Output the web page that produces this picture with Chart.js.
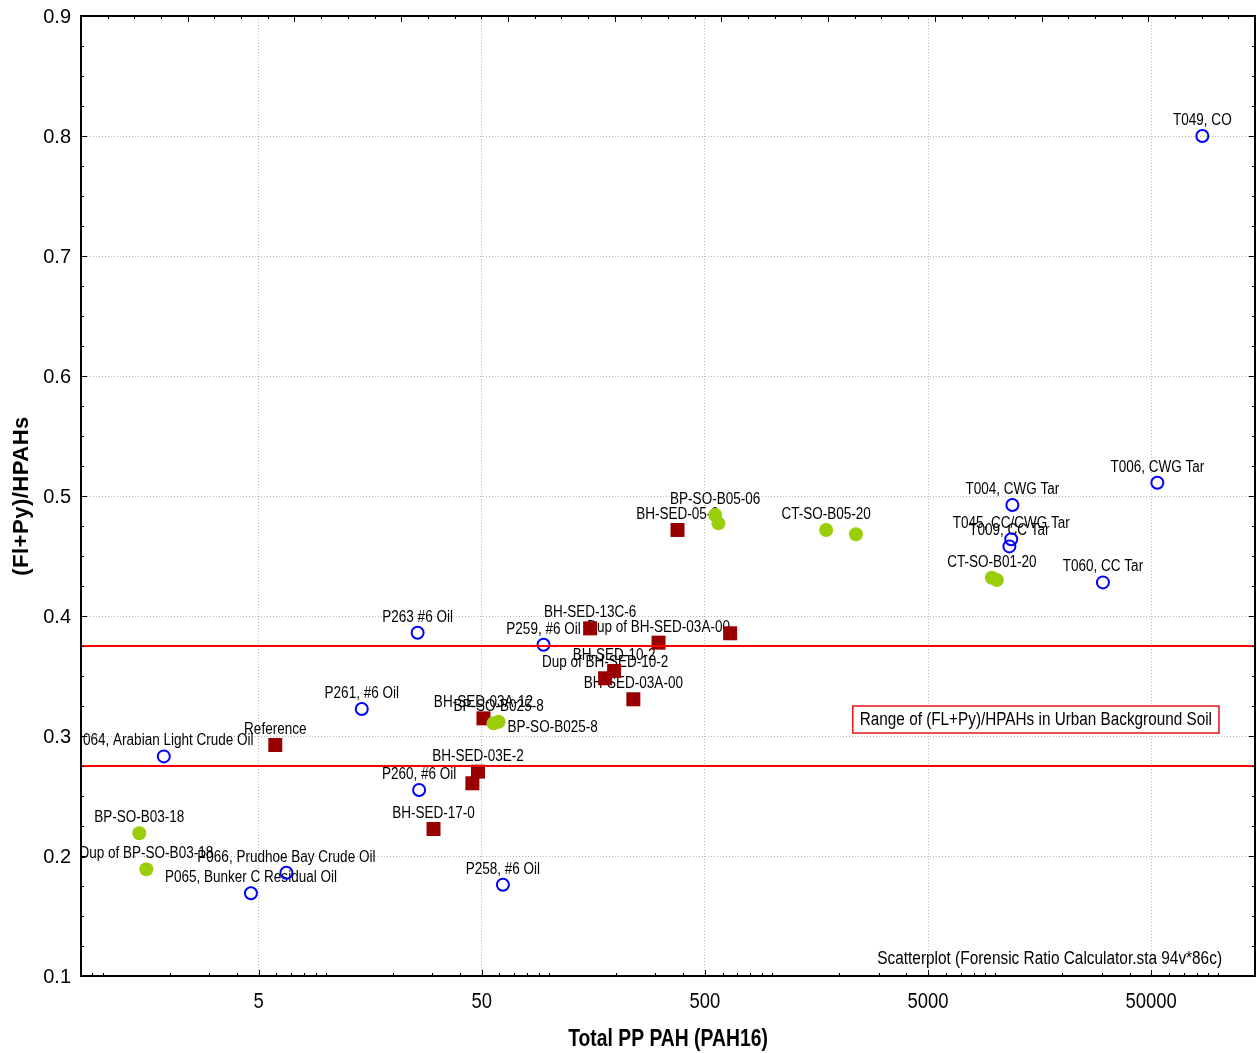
<!DOCTYPE html>
<html lang="en">
<head>
    <meta charset=utf-8>
    <title>(Fl+Py)/HPAHs vs Total PP PAH</title>
    <script src="https://cdn.jsdelivr.net/npm/chart.js@4.4.1/dist/chart.umd.min.js"></script>
    <style>
        html, body { margin: 0; padding: 0; background: #fff; }
    </style>
</head>
<body>
<canvas id="myChart" width="1257" height="1053"></canvas>
<script>
    // oils and tars (open blue circles)
    var oilNames = ['P064, Arabian Light Crude Oil', 'P065, Bunker C Residual Oil', 'P066, Prudhoe Bay Crude Oil',
        'P261, #6 Oil', 'P263 #6 Oil', 'P260, #6 Oil', 'P258, #6 Oil', 'P259, #6 Oil',
        'T009, CC Tar', 'T045, CC/CWG Tar', 'T004, CWG Tar', 'T060, CC Tar', 'T006, CWG Tar', 'T049, CO'];
    var oilTotal = [1.88, 4.62, 6.66, 14.5, 25.8, 26.2, 62.2, 94.6, 11580, 11800, 11940, 30400, 53300, 84800];
    var oilRatio = [0.283, 0.169, 0.186, 0.3225, 0.386, 0.255, 0.176, 0.376, 0.458, 0.464, 0.4925, 0.428, 0.511, 0.800];

    // sediments (dark red squares)
    var sedNames = ['Reference', 'BH-SED-17-0', '', 'BH-SED-03E-2', 'BH-SED-03A-12', 'BH-SED-13C-6',
        'Dup of BH-SED-10-2', 'BH-SED-10-2', 'BH-SED-03A-00', 'Dup of BH-SED-03A-00', 'BH-SED-05-0', ''];
    var sedTotal = [5.94, 30.4, 45.4, 48.1, 50.9, 153, 178.6, 196, 239, 310, 377, 649];
    var sedRatio = [0.2925, 0.2225, 0.2606, 0.2703, 0.3147, 0.3897, 0.3481, 0.3542, 0.3306, 0.3778, 0.4717, 0.3856];

    // soils (green dots)
    var soilNames = ['BP-SO-B03-18', 'Dup of BP-SO-B03-18', 'BP-SO-B025-8', 'BP-SO-B025-8', 'BP-SO-B05-06', '',
        'CT-SO-B05-20', '', 'CT-SO-B01-20', ''];
    var soilTotal = [1.46, 1.57, 56.5, 59.5, 556, 575, 1747, 2377, 9660, 10170];
    var soilRatio = [0.219, 0.189, 0.3106, 0.3119, 0.4842, 0.4772, 0.4717, 0.4681, 0.4319, 0.430];
    var soilLabelSide = ['above', 'above', 'right', 'above', 'above', 'above', 'above', 'above', 'above', 'above'];

    // urban background soil range
    var rangeLow = 0.275;
    var rangeHigh = 0.375;

    var xMin = 0.8, xMax = 146000;
    var yMin = 0.1, yMax = 0.9;
    var xLabelled = [5, 50, 500, 5000, 50000];

    var xTitle = 'Total PP PAH (PAH16)';
    var yTitle = '(Fl+Py)/HPAHs';
    var rangeText = 'Range of (FL+Py)/HPAHs in Urban Background Soil';
    var noteText = 'Scatterplot (Forensic Ratio Calculator.sta 94v*86c)';

    var SANS = "'Liberation Sans', Arial, sans-serif";

    function points(xs, ys) {
        return xs.map(function (x, i) { return {x: x, y: ys[i]}; });
    }

    // log ticks 1..9 x 10^n, labels only on the 5s
    var xTicks = [];
    for (var e = -1; e <= 5; e++) {
        for (var m = 1; m <= 9; m++) {
            var v = parseFloat((m * Math.pow(10, e)).toPrecision(3));
            if (v >= xMin && v <= xMax) xTicks.push(v);
        }
    }
    var yTicks = [];
    for (var k = 4; k <= 36; k++) yTicks.push(k * 25 / 1000);
    var topTicks = [];
    for (var t = 0; t <= 44; t++) topTicks.push(t / 4);

    function isMajorX(v) { return xLabelled.indexOf(v) >= 0; }
    function isMajorY(v) { return Math.abs(v * 10 - Math.round(v * 10)) < 1e-6; }

    // Arial-narrow look: squeeze text horizontally around its anchor
    function narrowText(ctx, text, x, y, align, sx) {
        ctx.save();
        ctx.translate(x, y);
        ctx.scale(sx, 1);
        ctx.textAlign = align;
        ctx.fillText(text, 0, 0);
        ctx.restore();
    }

    var decorations = {
        id: 'decorations',
        beforeDatasetsDraw: function (chart) {
            var ctx = chart.ctx, area = chart.chartArea;
            ctx.save();
            ctx.beginPath();
            ctx.rect(area.left, area.top, area.right - area.left, area.bottom - area.top);
            ctx.clip();
            ctx.font = '16px ' + SANS;
            ctx.fillStyle = '#000';
            ctx.textBaseline = 'alphabetic';
            chart.data.datasets.forEach(function (ds, i) {
                if (!ds.names) return;
                chart.getDatasetMeta(i).data.forEach(function (pt, j) {
                    var name = ds.names[j];
                    if (!name) return;
                    var side = ds.sides ? ds.sides[j] : 'above';
                    if (side === 'right') {
                        narrowText(ctx, name, pt.x + 14, pt.y + 9, 'left', 0.845);
                    } else {
                        narrowText(ctx, name, pt.x, pt.y - 11, 'center', 0.845);
                    }
                });
            });
            ctx.restore();
        },
        afterDraw: function (chart) {
            var ctx = chart.ctx, area = chart.chartArea;
            var xs = chart.scales.x, ys = chart.scales.y, top = chart.scales.x2;
            ctx.save();
            ctx.strokeStyle = '#000';
            ctx.lineWidth = 1;
            ctx.beginPath();
            xTicks.forEach(function (v) {
                var px = Math.round(xs.getPixelForValue(v)) + 0.5;
                ctx.moveTo(px, area.bottom);
                ctx.lineTo(px, area.bottom - (isMajorX(v) ? 6 : 3));
            });
            topTicks.forEach(function (v) {
                var px = Math.round(top.getPixelForValue(v)) + 0.5;
                ctx.moveTo(px, area.top);
                ctx.lineTo(px, area.top + (v % 1 === 0 ? 6 : 3));
            });
            yTicks.forEach(function (v) {
                var py = Math.round(ys.getPixelForValue(v)) + 0.5;
                var len = isMajorY(v) ? 6 : 3;
                ctx.moveTo(area.left, py);
                ctx.lineTo(area.left + len, py);
                ctx.moveTo(area.right, py);
                ctx.lineTo(area.right - len, py);
            });
            ctx.stroke();

            // frame
            ctx.lineWidth = 2;
            ctx.strokeRect(area.left, area.top, area.right - area.left, area.bottom - area.top);

            ctx.fillStyle = '#000';

            // tick labels
            ctx.font = '20px ' + SANS;
            ctx.textAlign = 'right';
            ctx.textBaseline = 'middle';
            yTicks.forEach(function (v) {
                if (isMajorY(v)) ctx.fillText(v.toFixed(1), area.left - 10, ys.getPixelForValue(v) + 1);
            });
            ctx.font = '22px ' + SANS;
            ctx.textBaseline = 'alphabetic';
            xLabelled.forEach(function (v) {
                narrowText(ctx, String(v), xs.getPixelForValue(v), area.bottom + 32, 'center', 0.84);
            });

            // axis titles
            ctx.font = 'bold 23px ' + SANS;
            narrowText(ctx, xTitle, (area.left + area.right) / 2, area.bottom + 70, 'center', 0.84);
            ctx.save();
            ctx.translate(22, (area.top + area.bottom) / 2);
            ctx.rotate(-Math.PI / 2);
            ctx.font = 'bold 22px ' + SANS;
            ctx.letterSpacing = '0.5px';
            ctx.textAlign = 'center';
            ctx.textBaseline = 'middle';
            ctx.fillText(yTitle, 0, 0);
            ctx.restore();

            // range legend box
            ctx.font = '18px ' + SANS;
            ctx.textBaseline = 'middle';
            var sx = 0.85;
            var tw = ctx.measureText(rangeText).width * sx;
            var boxRight = area.right - 36;
            var boxTop = ys.getPixelForValue((rangeLow + rangeHigh) / 2);
            var boxW = tw + 14, boxH = 27;
            ctx.fillStyle = '#fff';
            ctx.fillRect(boxRight - boxW, boxTop, boxW, boxH);
            ctx.strokeStyle = '#e8141c';
            ctx.lineWidth = 1.5;
            ctx.strokeRect(boxRight - boxW, boxTop, boxW, boxH);
            ctx.fillStyle = '#000';
            narrowText(ctx, rangeText, boxRight - boxW + 7, boxTop + boxH / 2 + 1, 'left', sx);

            // source note
            ctx.textBaseline = 'alphabetic';
            narrowText(ctx, noteText, area.right - 33, area.bottom - 12, 'right', 0.855);
            ctx.restore();
        }
    };

    var ctx = document.getElementById('myChart').getContext('2d');
    Chart.defaults.color = '#000';

    var chart = new Chart(ctx, {
        type: 'scatter',
        data: {
            datasets: [
                {
                    type: 'line',
                    data: [{x: xMin, y: rangeHigh}, {x: xMax, y: rangeHigh}],
                    borderColor: '#ff0000',
                    borderWidth: 2,
                    pointRadius: 0
                },
                {
                    type: 'line',
                    data: [{x: xMin, y: rangeLow}, {x: xMax, y: rangeLow}],
                    borderColor: '#ff0000',
                    borderWidth: 2,
                    pointRadius: 0
                },
                {
                    names: soilNames,
                    sides: soilLabelSide,
                    data: points(soilTotal, soilRatio),
                    pointStyle: 'circle',
                    pointRadius: 7,
                    backgroundColor: '#9acd0a',
                    borderColor: '#9acd0a',
                    borderWidth: 0
                },
                {
                    names: sedNames,
                    data: points(sedTotal, sedRatio),
                    pointStyle: 'rect',
                    pointRadius: 9.9,
                    backgroundColor: '#990000',
                    borderColor: '#990000',
                    borderWidth: 0
                },
                {
                    names: oilNames,
                    data: points(oilTotal, oilRatio),
                    pointStyle: 'circle',
                    pointRadius: 6,
                    backgroundColor: 'rgba(0,0,0,0)',
                    borderColor: '#0000ff',
                    borderWidth: 2
                }
            ]
        },
        options: {
            responsive: false,
            animation: false,
            events: [],
            layout: {autoPadding: false, padding: {top: 16, right: 2, left: 0, bottom: 0}},
            plugins: {legend: {display: false}, tooltip: {enabled: false}},
            scales: {
                x: {
                    type: 'logarithmic',
                    position: 'bottom',
                    min: xMin,
                    max: xMax,
                    afterBuildTicks: function (scale) {
                        scale.ticks = xTicks.map(function (v) { return {value: v}; });
                    },
                    afterFit: function (scale) {
                        scale.height = 77;
                        scale.paddingLeft = 0;
                        scale.paddingRight = 0;
                    },
                    ticks: {display: false, autoSkip: false},
                    grid: {
                        drawTicks: false,
                        color: function (c) {
                            return c.tick && isMajorX(c.tick.value) ? 'rgba(0,0,0,0.28)' : 'rgba(0,0,0,0)';
                        }
                    },
                    border: {display: false, dash: [1, 2]}
                },
                x2: {
                    type: 'linear',
                    position: 'top',
                    display: false,
                    min: 0,
                    max: 11
                },
                y: {
                    type: 'linear',
                    min: yMin,
                    max: yMax,
                    afterBuildTicks: function (scale) {
                        scale.ticks = yTicks.map(function (v) { return {value: v}; });
                    },
                    afterFit: function (scale) {
                        scale.width = 81;
                        scale.paddingTop = 0;
                        scale.paddingBottom = 0;
                    },
                    ticks: {display: false, autoSkip: false},
                    grid: {
                        drawTicks: false,
                        color: function (c) {
                            return c.tick && isMajorY(c.tick.value) ? 'rgba(0,0,0,0.28)' : 'rgba(0,0,0,0)';
                        }
                    },
                    border: {display: false, dash: [1, 2]}
                }
            }
        },
        plugins: [decorations]
    });
</script>
</body>
</html>
